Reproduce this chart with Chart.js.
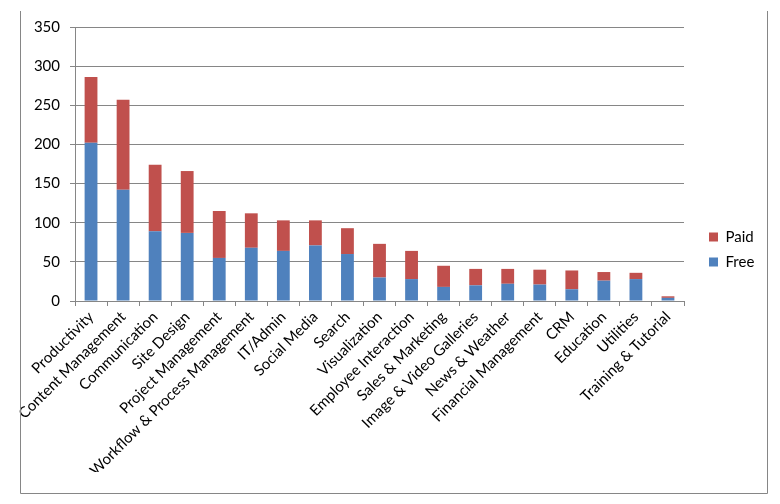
<!DOCTYPE html>
<html lang="en">
<head>
    <meta charset="UTF-8">
    <title>Apps by Category</title>
    <script src="https://cdn.jsdelivr.net/npm/chart.js"></script>
    <style>
        body { margin: 0; background: #ffffff; }
        #wrap { width: 780px; height: 504px; }
    </style>
</head>
<body>
    <div id="wrap">
        <canvas id="appChart" width="780" height="504"></canvas>
    </div>

    <script>
        const categories = [
            'Productivity', 'Content Management', 'Communication', 'Site Design',
            'Project Management', 'Workflow & Process Management', 'IT/Admin',
            'Social Media', 'Search', 'Visualization', 'Employee Interaction',
            'Sales & Marketing', 'Image & Video Galleries', 'News & Weather',
            'Financial Management', 'CRM', 'Education', 'Utilities', 'Training & Tutorial'
        ];
        const freeApps = [202, 142, 89, 87, 55, 68, 64, 71, 60, 30, 28, 18, 20, 22, 21, 15, 26, 28, 4];
        const paidApps = [84, 115, 85, 79, 60, 44, 39, 32, 33, 43, 36, 27, 21, 19, 19, 24, 11, 8, 2];
        const yMax = 350;
        const yStep = 50;

        const gray = '#868686';

        // thin frame round the chart, top edge cut off like the original
        const frame = {
            id: 'frame',
            afterDraw(chart) {
                const c = chart.ctx;
                c.save();
                c.strokeStyle = gray;
                c.lineWidth = 1;
                c.beginPath();
                c.moveTo(20.5, 11);
                c.lineTo(20.5, 493.5);
                c.lineTo(767.5, 493.5);
                c.lineTo(767.5, 11);
                c.stroke();
                c.restore();
            }
        };

        // fixed legend width, then push it a bit to the right
        const legendPlace = {
            id: 'legendPlace',
            beforeInit(chart) {
                const fit = chart.legend.fit;
                chart.legend.fit = function () {
                    fit.call(this);
                    this.width = 96;
                };
            },
            afterLayout(chart) {
                chart.legend.left += 15;
            }
        };

        const ctx = document.getElementById('appChart').getContext('2d');
        const appChart = new Chart(ctx, {
            type: 'bar',
            data: {
                labels: categories,
                datasets: [
                    { label: 'Free', data: freeApps, backgroundColor: '#4F81BD', barPercentage: 0.4, categoryPercentage: 1.0 },
                    { label: 'Paid', data: paidApps, backgroundColor: '#C0504D', barPercentage: 0.4, categoryPercentage: 1.0 }
                ]
            },
            options: {
                responsive: false,
                animation: false,
                layout: { padding: { top: 27, right: 0, bottom: 32, left: 0 } },
                font: { family: 'Lato' },
                plugins: {
                    tooltip: { enabled: false },
                    legend: {
                        position: 'right',
                        reverse: true,
                        labels: {
                            boxWidth: 9,
                            boxHeight: 9,
                            padding: 10,
                            color: '#000000',
                            font: { family: 'Lato', size: 15 }
                        }
                    }
                },
                scales: {
                    x: {
                        stacked: true,
                        border: { color: gray },
                        grid: { drawOnChartArea: false, color: gray, tickLength: 5 },
                        ticks: {
                            autoSkip: false,
                            minRotation: 45,
                            maxRotation: 45,
                            padding: 2,
                            color: '#000000',
                            font: { family: 'Lato', size: 15 }
                        },
                        afterFit(scale) { scale.height = 171; }
                    },
                    y: {
                        stacked: true,
                        min: 0,
                        max: yMax,
                        border: { color: gray },
                        grid: { color: gray, tickLength: 5 },
                        ticks: {
                            stepSize: yStep,
                            padding: 10,
                            color: '#000000',
                            font: { family: 'Lato', size: 15 }
                        },
                        afterFit(scale) { scale.width = 75; }
                    }
                }
            },
            plugins: [frame, legendPlace]
        });
    </script>
</body>
</html>
